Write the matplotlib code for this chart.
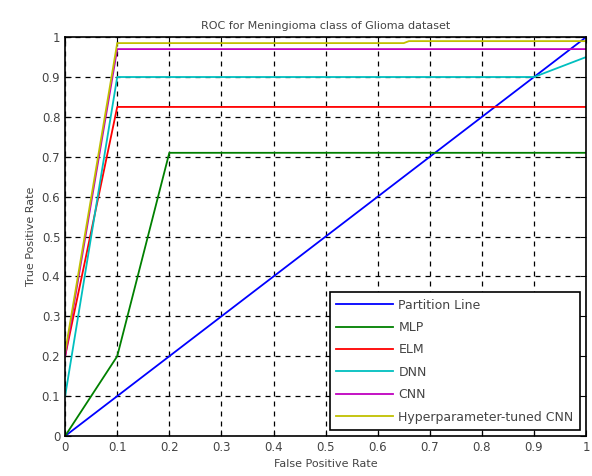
import matplotlib
matplotlib.use('Agg')
import matplotlib.pyplot as plt

# ROC points
partition_x = [0, 1]
partition_y = [0, 1]
mlp_x = [0, 0.1, 0.2, 1]
mlp_y = [0, 0.2, 0.71, 0.71]
elm_x = [0, 0.1, 1]
elm_y = [0.2, 0.825, 0.825]
dnn_x = [0, 0.1, 0.9, 1]
dnn_y = [0.1, 0.9, 0.9, 0.95]
cnn_x = [0, 0.1, 1]
cnn_y = [0.2, 0.97, 0.97]
hyp_x = [0, 0.1, 0.65, 0.66, 1]
hyp_y = [0.21, 0.985, 0.985, 0.99, 0.99]

fig = plt.figure(figsize=(5.92, 4.76), dpi=100)
ax = fig.add_axes([0.11, 0.084, 0.88, 0.838])

lw = 1.3
ax.plot(partition_x, partition_y, color='blue', lw=lw, label='Partition Line')
ax.plot(mlp_x, mlp_y, color='green', lw=lw, label='MLP')
ax.plot(elm_x, elm_y, color='red', lw=lw, label='ELM')
ax.plot(dnn_x, dnn_y, color='c', lw=lw, label='DNN')
ax.plot(cnn_x, cnn_y, color='m', lw=lw, label='CNN')
ax.plot(hyp_x, hyp_y, color='#c0c000', lw=lw, label='Hyperparameter-tuned CNN')

ticks = [i / 10 for i in range(11)]
labels = ['0'] + ['%.1f' % t for t in ticks[1:-1]] + ['1']
ax.set_xticks(ticks)
ax.set_xticklabels(labels)
ax.set_yticks(ticks)
ax.set_yticklabels(labels)
ax.set_xlim(0, 1)
ax.set_ylim(0, 1)
ax.tick_params(direction='in', labelsize=8.5, colors='black', labelcolor='#444444',
               top=True, right=True, length=4)
ax.grid(True, color='black', linestyle=(0, (4, 4)), lw=0.9)
for s in ax.spines.values():
    s.set_linewidth(1.2)

ax.set_xlabel('False Positive Rate', fontsize=8, color='#444444')
ax.set_ylabel('True Positive Rate', fontsize=8, color='#444444')
ax.set_title('ROC for Meningioma class of Glioma dataset', fontsize=8, color='#444444')

leg = ax.legend(loc='lower right', fontsize=9, fancybox=False, framealpha=1,
                edgecolor='black', handlelength=4.6, borderaxespad=0.5, labelspacing=0.75,
                handletextpad=0.4, borderpad=0.5)
leg.get_frame().set_linewidth(1.2)
for t in leg.get_texts():
    t.set_color('#444444')

fig.savefig('out.png', dpi=100)
